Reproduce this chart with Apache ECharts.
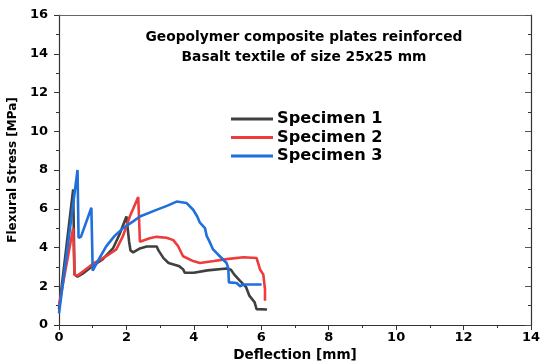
<!DOCTYPE html>
<html><head><meta charset="utf-8">
<script src="https://cdn.jsdelivr.net/npm/echarts@6/dist/echarts.min.js"></script>
<style>html,body{margin:0;padding:0;background:#fff}#c{width:540px;height:362px}</style>
</head><body><div id="c"></div>
<script>
const seriesNames = ['Specimen 1', 'Specimen 2', 'Specimen 3'];
const spec1 = [[0,0.8],[0.42,7.0],[0.46,2.6],[0.55,2.5],[0.7,2.65],[1.0,3.05],[1.3,3.4],[1.6,3.95],[1.8,4.7],[2.0,5.6],[2.04,5.7],[2.08,4.3],[2.12,3.85],[2.2,3.75],[2.4,3.95],[2.6,4.05],[2.9,4.05],[2.95,3.85],[3.1,3.45],[3.25,3.2],[3.55,3.05],[3.68,2.88],[3.73,2.7],[4.0,2.7],[4.4,2.82],[4.97,2.92],[5.1,2.85],[5.2,2.6],[5.37,2.28],[5.55,1.95],[5.65,1.5],[5.8,1.18],[5.86,0.82],[6.17,0.8]];
const spec2 = [[0,1.0],[0.42,5.0],[0.46,2.6],[0.55,2.55],[0.7,2.75],[1.0,3.15],[1.4,3.55],[1.7,3.9],[1.9,4.6],[2.1,5.6],[2.35,6.6],[2.38,6.6],[2.4,4.3],[2.69,4.48],[2.89,4.55],[3.19,4.5],[3.39,4.38],[3.53,4.08],[3.68,3.55],[3.98,3.3],[4.18,3.2],[4.6,3.3],[4.97,3.4],[5.47,3.5],[5.86,3.46],[5.96,2.88],[6.06,2.6],[6.11,1.85],[6.11,1.25]];
const spec3 = [[0,0.6],[0.55,8.0],[0.58,4.5],[0.65,4.55],[0.96,6.05],[1.0,2.8],[1.2,3.45],[1.4,4.06],[1.65,4.6],[1.9,5.0],[2.2,5.35],[2.4,5.6],[2.89,5.94],[3.2,6.15],[3.49,6.37],[3.78,6.3],[3.98,5.95],[4.1,5.6],[4.18,5.28],[4.33,5.0],[4.38,4.6],[4.48,4.25],[4.57,3.9],[4.77,3.55],[4.97,3.2],[5.02,2.95],[5.04,2.2],[5.27,2.17],[5.37,2.0],[5.47,2.09],[6.01,2.09]];
const colors = ['#404040', '#ee3b3b', '#1f6fdd'];
const xTicks = [0, 14, 2];
const yTicks = [0, 16, 2];

const chart = echarts.init(document.getElementById('c'));
const FF = 'DejaVu Sans, Liberation Sans, sans-serif';
const bold = {fontFamily: FF, fontWeight: 'bold', color: '#000'};
chart.setOption({
  animation: false,
  grid: {left: 59, right: 9, top: 15, bottom: 37, outerBoundsMode: 'none', containLabel: false},
  title: {
    text: 'Geopolymer composite plates reinforced\nBasalt textile of size 25x25 mm',
    left: 299, top: 23, textAlign: 'center',
    textStyle: Object.assign({}, bold, {fontSize: 13.8, lineHeight: 19.5})
  },
  legend: {
    orient: 'vertical', left: 226, top: 106, itemWidth: 42, itemHeight: 3, itemGap: 2.5,
    icon: 'rect',
    data: seriesNames,
    textStyle: Object.assign({}, bold, {fontSize: 16.2, lineHeight: 16, padding: [0, 0, 0, -1]})
  },
  xAxis: [{
    type: 'value', min: xTicks[0], max: xTicks[1], interval: xTicks[2],
    name: 'Deflection [mm]', nameLocation: 'middle', nameGap: 22,
    nameTextStyle: Object.assign({}, bold, {fontSize: 13.6}),
    axisLine: {lineStyle: {color: '#333', width: 1.2}},
    axisTick: {show: true, length: 5, lineStyle: {color: '#333'}},
    minorTick: {show: true, splitNumber: 2, length: 3, lineStyle: {color: '#333'}},
    axisLabel: Object.assign({}, bold, {fontSize: 13, margin: 6}),
    splitLine: {show: false}
  }, {
    type: 'value', position: 'top', min: xTicks[0], max: xTicks[1], interval: xTicks[2],
    axisLine: {show: true, onZero: false, lineStyle: {color: '#666', width: 1.2}},
    axisTick: {show: false}, axisLabel: {show: false}, splitLine: {show: false}
  }],
  yAxis: [{
    type: 'value', min: yTicks[0], max: yTicks[1], interval: yTicks[2],
    name: 'Flexural Stress [MPa]', nameLocation: 'middle', nameGap: 37,
    nameTextStyle: Object.assign({}, bold, {fontSize: 12}),
    axisLine: {show: true, lineStyle: {color: '#333', width: 1.2}},
    axisTick: {show: true, length: 5, lineStyle: {color: '#333'}},
    minorTick: {show: true, splitNumber: 2, length: 3, lineStyle: {color: '#333'}},
    axisLabel: Object.assign({}, bold, {fontSize: 13, margin: 11}),
    splitLine: {show: false}
  }, {
    type: 'value', position: 'right', min: yTicks[0], max: yTicks[1], interval: yTicks[2],
    axisLine: {show: true, onZero: false, lineStyle: {color: '#333', width: 1.2}},
    axisTick: {show: true, inside: true, length: 6, lineStyle: {color: '#555'}},
    minorTick: {show: true, splitNumber: 2, length: 3, lineStyle: {color: '#333'}},
    axisLabel: {show: false}, splitLine: {show: false}
  }],
  series: [spec1, spec2, spec3].map((d, i) => ({
    name: seriesNames[i], type: 'line', data: d, symbol: 'none',
    lineStyle: {color: colors[i], width: 2.6}, itemStyle: {color: colors[i]}, z: 2 + i
  }))
});
</script></body></html>
